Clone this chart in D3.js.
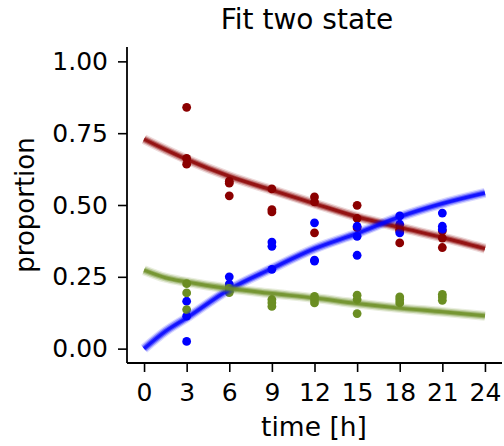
<!DOCTYPE html>
<html><head><meta charset="utf-8">
<script src="https://cdn.jsdelivr.net/npm/d3@7"></script>
<style>html,body{margin:0;padding:0;background:#fff;}svg{display:block;font-family:"DejaVu Sans",sans-serif;}</style>
</head><body>
<svg id="c" width="504" height="446"></svg>
<script>
// ---- data ----
const xTicks = [0,3,6,9,12,15,18,21,24];
const yTicks = [0,0.25,0.5,0.75,1.0];
const sampleTimes = [3,6,9,12,15,18,21];
// observed proportions, 3 replicates per time
const redObs = [[0.84,0.662,0.642],[0.583,0.576,0.532],[0.556,0.484,0.476],[0.528,0.511,0.403],[0.499,0.453,0.421],[0.415,0.410,0.368],[0.410,0.385,0.352]];
const blueObs = [[0.165,0.113,0.025],[0.250,0.225,0.215],[0.371,0.356,0.276],[0.438,0.308,0.305],[0.426,0.391,0.325],[0.462,0.433,0.403],[0.472,0.426,0.415]];
const greenObs = [[0.226,0.194,0.136],[0.210,0.200,0.195],[0.171,0.160,0.147],[0.182,0.170,0.159],[0.186,0.171,0.122],[0.180,0.170,0.159],[0.189,0.180,0.168]];
// fitted curves
const fitTimes = [0,1.5,3,6,9,12,15,18,21,24];
const redFit = [0.729,0.693,0.659,0.600,0.552,0.505,0.459,0.422,0.387,0.348];
const blueFit = [0.0,0.060,0.107,0.206,0.279,0.348,0.401,0.459,0.505,0.542];
const greenFit = [0.273,0.247,0.232,0.209,0.192,0.176,0.157,0.141,0.128,0.114];
const colors = {red:"#8b0000", blue:"#0000ff", green:"#6b8e23"};

// ---- layout ----
const svg = d3.select("#c");
const L=127, R=502, T=47, B=363;
const x = d3.scaleLinear().domain([-1.2,25.2]).range([L,R]);
const y = d3.scaleLinear().domain([-0.05,1.05]).range([B,T]);

// points
const series = [["red",redObs],["blue",blueObs],["green",greenObs]];
series.forEach(([c,obs])=>{
  const pts=[];
  obs.forEach((arr,i)=>arr.forEach(v=>pts.push([sampleTimes[i],v])));
  svg.append("g").selectAll("circle").data(pts).join("circle")
    .attr("cx",d=>x(d[0])).attr("cy",d=>y(d[1])).attr("r",4.4)
    .attr("fill",colors[c]);
});

// fitted lines (fuzzy band)
const line = d3.line().x(d=>x(d[0])).y(d=>y(d[1])).curve(d3.curveMonotoneX);
[["red",redFit],["blue",blueFit],["green",greenFit]].forEach(([c,vals])=>{
  const d = fitTimes.map((t,i)=>[t,vals[i]]);
  const g = svg.append("g");
  [[10,0.15],[7.5,0.3],[5,0.5],[3,0.75]].forEach(([w,o])=>{
    g.append("path").attr("d",line(d)).attr("fill","none")
     .attr("stroke",colors[c]).attr("stroke-width",w).attr("stroke-opacity",o)
     .attr("stroke-linecap","butt");
  });
});

// axes
const fs = 25;
const xa = svg.append("g").attr("transform",`translate(0,${B})`)
  .call(d3.axisBottom(x).tickValues(xTicks).tickSize(9).tickPadding(11).tickSizeOuter(0));
const ya = svg.append("g").attr("transform",`translate(${L},0)`)
  .call(d3.axisLeft(y).tickValues(yTicks).tickFormat(d3.format(".2f")).tickSize(9).tickPadding(10).tickSizeOuter(0));
[xa,ya].forEach(a=>{
  a.attr("font-size",fs).attr("font-family","DejaVu Sans");
  a.select(".domain").attr("stroke","#000").attr("stroke-width",1.8);
  a.selectAll(".tick line").attr("stroke","#000").attr("stroke-width",1.6);
  a.selectAll(".tick text").attr("font-size",fs).attr("fill","#000");
});
xa.select(".domain").attr("d",`M${L},0H${R}`);
ya.select(".domain").attr("d",`M0,${T}V${B}`);

svg.append("text").attr("x",307).attr("y",28.5).attr("text-anchor","middle")
  .attr("font-size",28).text("Fit two state");
svg.append("text").attr("x",314).attr("y",436).attr("text-anchor","middle")
  .attr("font-size",26.5).text("time [h]");
svg.append("text").attr("transform",`translate(34,${(T+B)/2}) rotate(-90)`).attr("text-anchor","middle")
  .attr("font-size",26).text("proportion");
</script>
</body></html>
